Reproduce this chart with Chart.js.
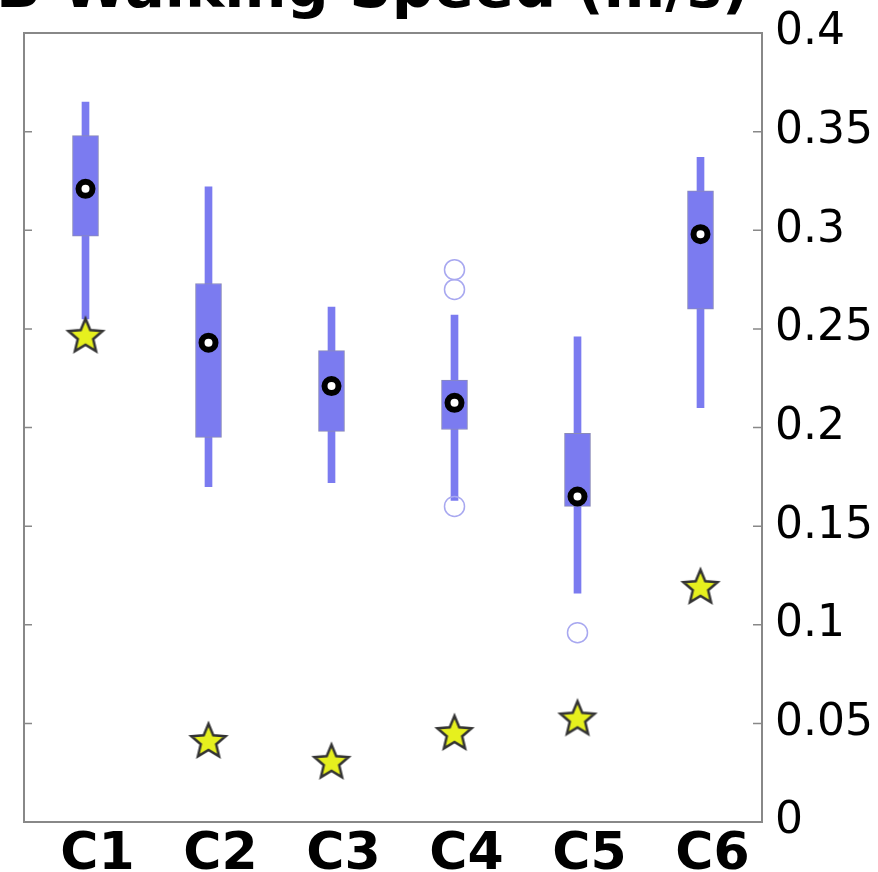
<!DOCTYPE html>
<html>
<head>
<meta charset="utf-8">
<script src="https://cdn.jsdelivr.net/npm/chart.js@4"></script>
<style>
  html, body { margin: 0; padding: 0; background: #fff; }
  #wrap { position: relative; width: 878px; height: 872px; }
</style>
</head>
<body>
<div id="wrap"><canvas id="speed-chart" width="878" height="872"></canvas></div>
<script>
// walking speed per condition (m/s)
const categories = ['C1', 'C2', 'C3', 'C4', 'C5', 'C6'];
const whiskerLow  = [0.255, 0.170, 0.172, 0.163, 0.116, 0.210];
const whiskerHigh = [0.365, 0.322, 0.261, 0.257, 0.246, 0.337];
const boxLow      = [0.297, 0.195, 0.198, 0.199, 0.160, 0.260];
const boxHigh     = [0.348, 0.273, 0.239, 0.224, 0.197, 0.320];
const medians     = [0.321, 0.243, 0.221, 0.2125, 0.165, 0.298];
const starValues  = [0.247, 0.0416, 0.031, 0.0456, 0.053, 0.1197];
const outlierCats = ['C4', 'C4', 'C4', 'C5'];
const outlierVals = [0.280, 0.270, 0.160, 0.096];
const yTicks = [0, 0.05, 0.1, 0.15, 0.2, 0.25, 0.3, 0.35, 0.4];
const yTickLabels = ['0', '0.05', '0.1', '0.15', '0.2', '0.25', '0.3', '0.35', '0.4'];

const BOX_COLOR = '#7b7bf0';

function makeStar(r) {
  const c = document.createElement('canvas');
  const size = Math.ceil(r * 2 + 6);
  c.width = size; c.height = size;
  const g = c.getContext('2d');
  const cx = size / 2, cy = size / 2 + r * 0.1;
  g.beginPath();
  for (let i = 0; i < 10; i++) {
    const rad = i % 2 === 0 ? r : r * 0.45;
    const a = -Math.PI / 2 + i * Math.PI / 5;
    const px = cx + rad * Math.cos(a), py = cy + rad * Math.sin(a);
    if (i === 0) g.moveTo(px, py); else g.lineTo(px, py);
  }
  g.closePath();
  g.fillStyle = '#e6f01e';
  g.fill();
  g.lineWidth = 2.5;
  g.strokeStyle = '#333';
  g.lineJoin = 'miter';
  g.stroke();
  return c;
}

// frame round the plot area, with short inward ticks on both sides
const framePlugin = {
  id: 'frame',
  afterDraw(chart) {
    const { ctx, chartArea: a, scales } = chart;
    ctx.save();
    ctx.strokeStyle = '#888';
    ctx.lineWidth = 2;
    ctx.strokeRect(a.left, a.top, a.right - a.left, a.bottom - a.top);
    ctx.lineWidth = 1.5;
    yTicks.forEach(v => {
      const y = scales.y.getPixelForValue(v);
      ctx.beginPath();
      ctx.moveTo(a.left, y); ctx.lineTo(a.left + 8, y);
      ctx.moveTo(a.right, y); ctx.lineTo(a.right - 9, y);
      ctx.stroke();
    });
    // panel title, cut off by the top edge in the source figure
    ctx.fillStyle = '#000';
    ctx.font = 'bold 59px "DejaVu Sans"';
    ctx.textBaseline = 'alphabetic';
    ctx.textAlign = 'left';
    ctx.fillText('B', -4, 7);
    ctx.fillText('Walking Speed (m/s)', 62, 7);
    ctx.restore();
  }
};

const ctx = document.getElementById('speed-chart').getContext('2d');

new Chart(ctx, {
  type: 'bar',
  data: {
    labels: categories,
    datasets: [
      {
        label: 'whiskers',
        data: whiskerLow.map((lo, i) => [lo, whiskerHigh[i]]),
        backgroundColor: BOX_COLOR,
        barThickness: 7,
        grouped: false,
        order: 5
      },
      {
        label: 'box',
        data: boxLow.map((lo, i) => [lo, boxHigh[i]]),
        backgroundColor: BOX_COLOR,
        borderColor: '#8a8ab8',
        borderWidth: 1,
        borderSkipped: false,
        barThickness: 26,
        grouped: false,
        order: 4
      },
      {
        type: 'line',
        label: 'outliers',
        data: outlierCats.map((c, i) => ({ x: c, y: outlierVals[i] })),
        showLine: false,
        pointStyle: 'circle',
        pointRadius: 10,
        pointBackgroundColor: 'rgba(0,0,0,0)',
        pointBorderColor: '#a8a8f0',
        pointBorderWidth: 1.5,
        order: 3
      },
      {
        type: 'line',
        label: 'median',
        data: medians,
        showLine: false,
        pointStyle: 'circle',
        pointRadius: 7,
        pointBackgroundColor: '#fff',
        pointBorderColor: '#000',
        pointBorderWidth: 6,
        order: 2
      },
      {
        type: 'line',
        label: 'reference',
        data: starValues,
        showLine: false,
        pointStyle: makeStar(18),
        order: 1
      }
    ]
  },
  options: {
    responsive: false,
    animation: false,
    layout: { padding: { top: 33, left: 24, right: 0, bottom: 0 } },
    scales: {
      x: {
        grid: { display: false },
        border: { display: false },
        ticks: {
          color: '#000',
          padding: -6,
          labelOffset: 12,
          autoSkip: false,
          maxRotation: 0,
          font: { family: 'DejaVu Sans', weight: 'bold', size: 52 }
        },
        afterFit(scale) { scale.height = 50; }
      },
      y: {
        position: 'right',
        min: 0,
        max: 0.4,
        afterBuildTicks(scale) { scale.ticks = yTicks.map(v => ({ value: v })); },
        grid: { display: false },
        border: { display: false },
        ticks: {
          color: '#000',
          padding: 5,
          autoSkip: false,
          font: { family: 'DejaVu Sans', size: 44 },
          callback: (value, i) => yTickLabels[i]
        },
        afterFit(scale) { scale.width = 116; }
      }
    },
    plugins: {
      legend: { display: false },
      tooltip: { enabled: false }
    }
  },
  plugins: [framePlugin]
});
</script>
</body>
</html>
